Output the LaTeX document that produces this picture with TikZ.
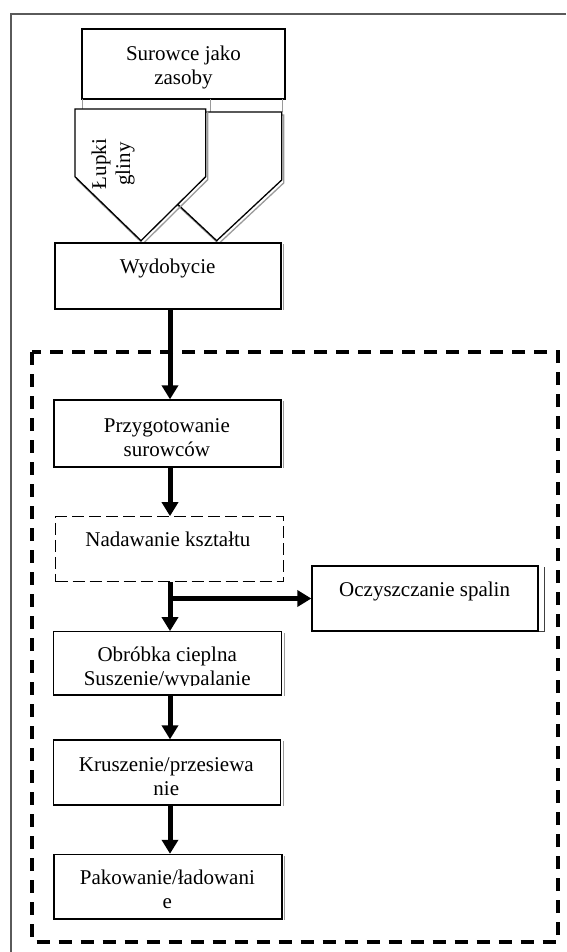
\documentclass[tikz,border=0pt]{standalone}
\usepackage{fontspec}
\setmainfont{Liberation Serif}
\usetikzlibrary{arrows.meta}
\definecolor{framegray}{HTML}{5A5A5A}
\definecolor{shadowgray}{HTML}{9A9A9A}
\begin{document}
\begin{tikzpicture}[x=1pt,y=-1pt,
  box/.style={draw, line width=1.3pt, fill=white, inner sep=0pt},
  dashbox/.style={box, dash pattern=on 12pt off 5pt},
  lbl/.style={font=\fontsize{21}{24}\selectfont, align=center, anchor=base, inner sep=0pt},
  flow/.style={line width=5pt, -{Triangle[length=14pt,width=16pt]}},
  shadowline/.style={line width=1pt, shadowgray},
  outer/.style={line width=1.5pt, framegray},
  zone/.style={line width=4pt, dash pattern=on 13pt off 9pt},
  hopper/.style={line width=1.3pt, fill=white, line join=miter},
  hoppershadow/.style={line width=1.3pt, shadowgray}
]
\useasboundingbox (0,0) rectangle (566,952);

% page frame (open to the right and bottom)
\draw[outer] (566,14) -- (11,14) -- (11,952);

% dashed zone around the plant
\draw[zone] (32,352) rectangle (558,941.5);

% raw materials (two-line labels sit on the baseline of their last line)
\node[box, minimum width=203pt, minimum height=70pt] (sur) at (183.5,64) {};
\node[lbl] (t-sur) at (183.5,85) {Surowce jako\\zasoby};

% grey links from the resources box down to the hoppers
\draw[shadowline] (82,99) -- (82,109);
\draw[shadowline] (210,99) -- (210,112);
\draw[shadowline] (282,99) -- (282,112);

% right hopper
\draw[hoppershadow, shift={(2,3)}] (151.7,112) -- (281.7,112) -- (281.7,180) -- (216.7,240.7) -- (151.7,180) -- cycle;
\draw[hopper] (151.7,112) -- (281.7,112) -- (281.7,180) -- (216.7,240.7) -- (151.7,180) -- cycle;

% left hopper
\draw[hoppershadow, shift={(2,3)}] (75,109) -- (205.7,109) -- (205.7,176.7) -- (141,240.7) -- (75,176.7) -- cycle;
\draw[hopper] (75,109) -- (205.7,109) -- (205.7,176.7) -- (141,240.7) -- (75,176.7) -- cycle;
\node[lbl, anchor=center, rotate=90] (lupki) at (113,164) {Łupki\\gliny};

% extraction
\node[box, minimum width=226pt, minimum height=66pt] (wyd) at (168,276) {};
\node[lbl] (t-wyd) at (167.7,273.3) {Wydobycie};

% process steps
\node[box, minimum width=227pt, minimum height=67pt] (prz) at (167.5,433.5) {};
\node[lbl] (t-prz) at (166.9,456.5) {Przygotowanie\\surowców};

\node[dashbox, minimum width=228pt, minimum height=65pt] (nad) at (169.5,549.3) {};
\node[lbl] (t-nad) at (167.9,546.8) {Nadawanie kształtu};

\node[box, minimum width=226pt, minimum height=65pt] (ocz) at (425,598.5) {};
\node[lbl] (t-ocz) at (424.6,596.8) {Oczyszczanie spalin};

\node[box, minimum width=228pt, minimum height=63.2pt] (obr) at (167.7,663.4) {};
\begin{scope}
  \clip (53,632) rectangle (282,685.6);
  \node[lbl] (t-obr) at (167.2,685) {Obróbka cieplna\\Suszenie/wypalanie};
\end{scope}

\node[box, minimum width=227pt, minimum height=65pt] (kru) at (167,772.5) {};
\node[lbl] (t-kru) at (166.3,795) {Kruszenie/przesiewa\\nie};

\node[box, minimum width=228pt, minimum height=64.5pt] (pak) at (167.9,886.7) {};
\node[lbl] (t-pak) at (167.4,908.3) {Pakowanie/ładowani\\e};

% faint right-hand shadows of the boxes
\foreach \b in {wyd,prz,kru,pak,obr}
  \draw[shadowline] ([shift={(2,2)}]\b.north east) -- ([shift={(2,0)}]\b.south east);
\draw[line width=1pt, black!75] ([shift={(6,2)}]ocz.north east) -- ([shift={(6,0)}]ocz.south east) -- (ocz.south east);

% flow arrows
\coordinate (axis) at (170,0);
\draw[flow] (wyd.south -| axis) -- (prz.north -| axis);
\draw[flow] (prz.south -| axis) -- (nad.north -| axis);
\draw[flow] (nad.south -| axis) -- (obr.north -| axis);
\draw[flow] (obr.south -| axis) -- (kru.north -| axis);
\draw[flow] (kru.south -| axis) -- (pak.north -| axis);
\draw[flow] (axis |- ocz.west) -- (ocz.west);
\end{tikzpicture}
\end{document}
